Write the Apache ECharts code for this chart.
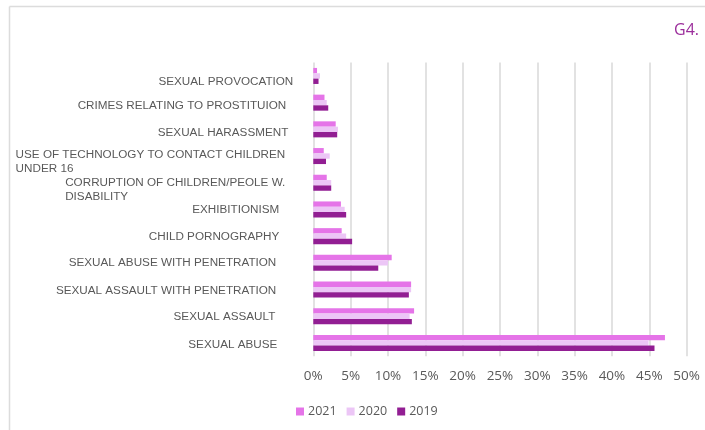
<!DOCTYPE html>
<html>
<head>
<meta charset="utf-8">
<script src="https://cdn.jsdelivr.net/npm/echarts@6/dist/echarts.min.js"></script>
<style>
  html, body { margin: 0; padding: 0; background: #ffffff; }
  #chart { width: 705px; height: 430px; }
</style>
</head>
<body>
<div id="chart"></div>
<script>
// Offence categories, top to bottom
const categories = [
  'SEXUAL PROVOCATION',
  'CRIMES RELATING TO PROSTITUION',
  'SEXUAL HARASSMENT',
  'USE OF TECHNOLOGY TO CONTACT CHILDREN\nUNDER 16',
  'CORRUPTION OF CHILDREN/PEOLE W.\nDISABILITY',
  'EXHIBITIONISM',
  'CHILD PORNOGRAPHY',
  'SEXUAL ABUSE WITH PENETRATION',
  'SEXUAL ASSAULT WITH PENETRATION',
  'SEXUAL ASSAULT',
  'SEXUAL ABUSE'
];

// Share of cases per year (%)
const values2021 = [0.5, 1.5, 3.0, 1.4, 1.8, 3.7, 3.8, 10.5, 13.1, 13.5, 47.1];
const values2020 = [0.9, 1.8, 3.3, 2.2, 2.4, 4.2, 4.4, 10.0, 13.1, 12.9, 44.9];
const values2019 = [0.7, 2.0, 3.2, 1.7, 2.4, 4.4, 5.2, 8.7, 12.8, 13.2, 45.7];

const seriesNames = ['2021', '2020', '2019'];
const xTicks = [0, 50, 5]; // min, max, step

// Hand-set label nudges (right inset, downward shift) in px, per category row
const labelInset = [0, 7, 5, 8, 8, 14, 14, 17, 17, 18, 16];
const labelDrop  = [6, 3, 3, 6, 7, 0, 1, 0, 1, 1, 2];

const chart = echarts.init(document.getElementById('chart'), null, { renderer: 'canvas' });

const labelColor = '#595959';
const numFont = '"Open Sans", Lato, sans-serif';
const catFont = '"Liberation Sans", Arial, sans-serif';

function makeSeries(name, data, color) {
  return {
    name: name,
    type: 'bar',
    data: data,
    barGap: '0%',
    barCategoryGap: '40%',
    itemStyle: { color: color },
    emphasis: { disabled: true }
  };
}

const yData = categories.map(function (c, i) {
  return {
    value: c,
    textStyle: { padding: [labelDrop[i] * 2, labelInset[i], 0, 0] }
  };
});

chart.setOption({
  animation: false,
  backgroundColor: '#ffffff',
  graphic: [
    { type: 'line', shape: { x1: 9.5, y1: 6.5, x2: 705, y2: 6.5 }, style: { stroke: '#dcdcdc', lineWidth: 1.5 } },
    { type: 'line', shape: { x1: 9.5, y1: 6.5, x2: 9.5, y2: 430 }, style: { stroke: '#dcdcdc', lineWidth: 1.5 } },
    {
      type: 'text', right: 6, top: 22,
      style: { text: 'G4.', fill: '#9b2d9b', font: '16px "Open Sans", Lato, sans-serif' }
    }
  ],
  legend: {
    data: seriesNames,
    left: 291,
    top: 400,
    icon: 'rect',
    itemWidth: 8,
    itemHeight: 8,
    itemGap: 10,
    textStyle: { color: labelColor, fontFamily: numFont, fontSize: 12.5, padding: [0, 0, 0, -1] }
  },
  grid: {
    left: 313.3,
    top: 62.6,
    width: 373.3,
    height: 293.7,
    containLabel: false
  },
  xAxis: {
    type: 'value',
    min: xTicks[0],
    max: xTicks[1],
    interval: xTicks[2],
    axisLine: { show: false },
    axisTick: { show: false },
    splitLine: { show: true, lineStyle: { color: '#d9d9d9', width: 1.5 } },
    axisLabel: {
      formatter: '{value}%',
      color: labelColor,
      fontFamily: numFont,
      fontSize: 13.5,
      margin: 13
    }
  },
  yAxis: {
    type: 'category',
    inverse: true,
    data: yData,
    axisLine: { show: false },
    axisTick: { show: false },
    splitLine: { show: false },
    axisLabel: {
      color: labelColor,
      fontFamily: catFont,
      fontSize: 11.7,
      margin: 20,
      lineHeight: 14,
      formatter: function (v) {
        if (v.indexOf('\n') >= 0) {
          return v.split('\n').map(function (s) { return '{l|' + s + '}'; }).join('\n');
        }
        return v;
      },
      rich: {
        l: {
          align: 'left',
          color: labelColor,
          fontFamily: catFont,
          fontSize: 11.7,
          lineHeight: 14
        }
      }
    }
  },
  series: [
    makeSeries(seriesNames[0], values2021, '#e574e8'),
    makeSeries(seriesNames[1], values2020, '#ecc6f6'),
    makeSeries(seriesNames[2], values2019, '#921e93')
  ]
});
</script>
</body>
</html>
